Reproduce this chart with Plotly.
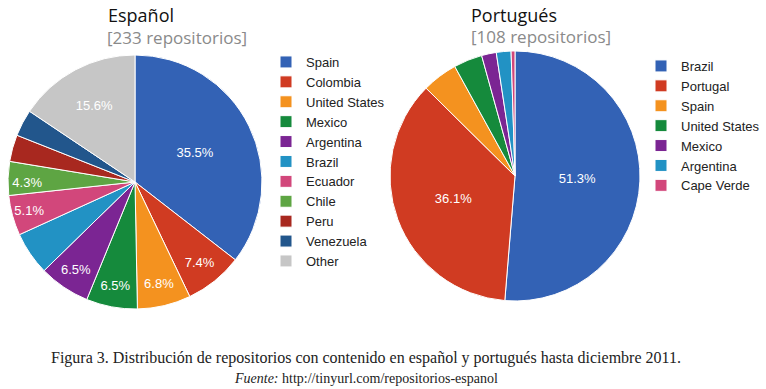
import plotly.graph_objects as go

W, H = 766, 389

es_labels = ["Spain", "Colombia", "United States", "Mexico", "Argentina", "Brazil",
             "Ecuador", "Chile", "Peru", "Venezuela", "Other"]
es_values = [35.5, 7.4, 6.8, 6.5, 6.5, 5.5, 5.1, 4.3, 3.4, 3.4, 15.6]
es_show_label = [True, True, True, True, True, False, True, True, False, False, True]
es_colors = ["#3362b5", "#d03b22", "#f4921f", "#158a3c", "#7b2593", "#2292c4",
             "#d2477b", "#5ea543", "#a8281f", "#22568c", "#c6c6c6"]

pt_labels = ["Brazil", "Portugal", "Spain", "United States", "Mexico", "Argentina", "Cape Verde"]
pt_values = [51.3, 36.1, 4.6, 3.7, 1.9, 1.9, 0.5]
pt_show_label = [True, True, False, False, False, False, False]
pt_colors = ["#3362b5", "#d03b22", "#f4921f", "#158a3c", "#7b2593", "#2292c4", "#d2477b"]

es_title = "Español"
es_sub = "[233 repositorios]"
pt_title = "Portugués"
pt_sub = "[108 repositorios]"
caption1 = "Figura 3. Distribución de repositorios con contenido en español y portugués hasta diciembre 2011."
caption2 = "<i>Fuente:</i> http://tinyurl.com/repositorios-espanol"


def px(x):
    return x / W


def py(y):
    return 1 - y / H


# zero-width suffix keeps the two legends independent (same visible text)
pt_trace_labels = [lab + "\u200b" for lab in pt_labels]

fig = go.Figure()
fig.add_trace(go.Pie(
    labels=es_labels, values=es_values, sort=False, direction="clockwise", rotation=0,
    marker=dict(colors=es_colors, line=dict(color="white", width=1)),
    texttemplate=["%{percent:.1%}" if s else "" for s in es_show_label],
    textposition="inside", insidetextorientation="horizontal",
    textfont=dict(family="Liberation Sans, Arial", size=13, color="white"),
    domain=dict(x=[px(8), px(262)], y=[py(309), py(55)]),
    legend="legend", hoverinfo="label+percent",
))
fig.add_trace(go.Pie(
    labels=pt_trace_labels, values=pt_values, sort=False, direction="clockwise", rotation=0,
    marker=dict(colors=pt_colors, line=dict(color="white", width=1)),
    texttemplate=["%{percent:.1%}" if s else "" for s in pt_show_label],
    textposition="inside", insidetextorientation="horizontal",
    textfont=dict(family="Liberation Sans, Arial", size=13, color="white"),
    domain=dict(x=[px(390), px(640)], y=[py(301), py(51)]),
    legend="legend2", hoverinfo="label+percent",
))

legend_font = dict(family="Liberation Sans, Arial", size=13, color="#222222")
fig.update_layout(
    width=W, height=H,
    margin=dict(l=0, r=0, t=0, b=0),
    paper_bgcolor="white", plot_bgcolor="white",
    legend=dict(x=px(266), y=py(47), xanchor="left", yanchor="top",
                font=legend_font, bgcolor="rgba(0,0,0,0)"),
    legend2=dict(x=px(641), y=py(51), xanchor="left", yanchor="top",
                 font=legend_font, bgcolor="rgba(0,0,0,0)"),
    showlegend=True,
)

title_font = dict(family="Open Sans, Noto Sans", size=18, color="#111111")
sub_font = dict(family="Open Sans, Noto Sans", size=17, color="#8a8a8a")
ann = [
    dict(text=es_title, x=px(106), y=py(15), font=title_font),
    dict(text=es_sub, x=px(105), y=py(38), font=sub_font),
    dict(text=pt_title, x=px(469), y=py(15), font=title_font),
    dict(text=pt_sub, x=px(469), y=py(36), font=sub_font),
]
for a in ann:
    fig.add_annotation(xref="paper", yref="paper", xanchor="left", yanchor="middle",
                       showarrow=False, **a)

fig.add_annotation(text=caption1, x=px(366), y=py(358), xref="paper", yref="paper",
                   xanchor="center", yanchor="middle", showarrow=False,
                   font=dict(family="Liberation Serif, DejaVu Serif", size=16, color="#222222"))
fig.add_annotation(text=caption2, x=px(366), y=py(378), xref="paper", yref="paper",
                   xanchor="center", yanchor="middle", showarrow=False,
                   font=dict(family="Liberation Serif, DejaVu Serif", size=14, color="#222222"))

fig.write_html("out.html", config={"displayModeBar": False},
               post_script="document.body.style.margin='0';document.body.style.overflow='hidden';")
